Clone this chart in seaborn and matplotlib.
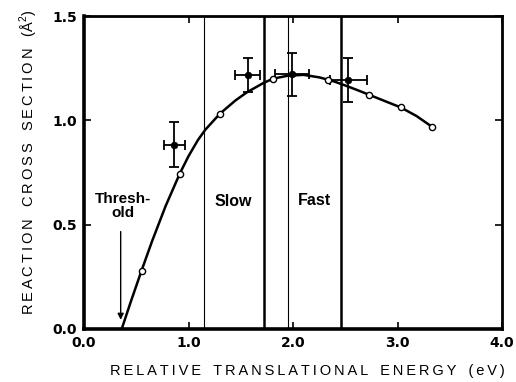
import matplotlib
matplotlib.use("Agg")
import matplotlib.pyplot as plt
import seaborn as sns
import pandas as pd

# ---- data ----
curve_x = [0.36, 0.45, 0.55, 0.65, 0.78, 0.916, 1.00, 1.09, 1.16, 1.30, 1.45, 1.56,
           1.72, 1.81, 1.95, 2.10, 2.25, 2.34, 2.40, 2.50, 2.62, 2.73, 2.88, 3.03,
           3.18, 3.33]
curve_y = [0.00, 0.135, 0.28, 0.42, 0.589, 0.745, 0.829, 0.906, 0.955, 1.032, 1.096,
           1.135, 1.18, 1.20, 1.214, 1.218, 1.206, 1.194, 1.185, 1.167, 1.144, 1.122,
           1.092, 1.062, 1.021, 0.969]

open_x = [0.55, 0.916, 1.30, 1.81, 2.33, 2.73, 3.03, 3.33]
open_y = [0.28, 0.745, 1.032, 1.20, 1.194, 1.122, 1.062, 0.969]

exp_x = [0.865, 1.564, 1.99, 2.53]
exp_y = [0.882, 1.217, 1.22, 1.193]
exp_xerr = [0.10, 0.12, 0.16, 0.175]
exp_yerr = [0.108, 0.082, 0.105, 0.104]

thin_lines = [1.15, 1.95]
thick_lines = [1.72, 2.46]

x_ticks = [0.0, 1.0, 2.0, 3.0, 4.0]
y_ticks = [0.0, 0.5, 1.0, 1.5]

TS = "\u2009"  # thin space for letter spacing


def spaced(s):
    words = s.split(" ")
    return "   ".join(TS.join(w) for w in words)


sns.set_theme(style="ticks")
plt.rcParams['font.family'] = ['Liberation Sans', 'DejaVu Sans']
plt.rcParams['mathtext.fontset'] = 'custom'
plt.rcParams['mathtext.rm'] = 'Liberation Sans'
plt.rcParams['text.color'] = 'black'
plt.rcParams['axes.labelcolor'] = 'black'

fig = plt.figure(figsize=(5.16, 3.82), dpi=100)
ax = fig.add_axes([0.163, 0.139, 0.81, 0.819])

curve = pd.DataFrame({"x": curve_x, "y": curve_y})
sns.lineplot(data=curve, x="x", y="y", ax=ax, color="black", lw=1.8, sort=False)

for v in thin_lines:
    ax.axvline(v, color="black", lw=0.8)
for v in thick_lines:
    ax.axvline(v, color="black", lw=1.8)

ax.errorbar(exp_x, exp_y, xerr=exp_xerr, yerr=exp_yerr, fmt="none",
            ecolor="black", elinewidth=1.3, capsize=3.5, capthick=1.3, zorder=4)
sns.scatterplot(x=exp_x, y=exp_y, ax=ax, color="black", s=24, marker="o",
                edgecolor="black", zorder=5)
sns.scatterplot(x=open_x, y=open_y, ax=ax, color="white", s=20, marker="o",
                edgecolor="black", linewidth=1.0, zorder=5)

ax.annotate("", xy=(0.35, 0.03), xytext=(0.35, 0.48),
            arrowprops=dict(arrowstyle="-|>", color="black", lw=1.0,
                            mutation_scale=9))
ax.text(0.375, 0.59, "Thresh-\nold", ha="center", va="center", fontsize=11,
        fontweight="bold", linespacing=0.95, color="black")
ax.text(1.43, 0.61, "Slow", ha="center", va="center", fontsize=11.5,
        fontweight="bold", color="black")
ax.text(2.2, 0.615, "Fast", ha="center", va="center", fontsize=11.5,
        fontweight="bold", color="black")

ax.set_xlim(0, 4.0)
ax.set_ylim(0, 1.5)
ax.set_xticks(x_ticks)
ax.set_yticks(y_ticks)
ax.set_xticklabels([f"{t:.1f}" for t in x_ticks], fontsize=10, fontweight="bold",
                   family="DejaVu Sans")
ax.set_yticklabels([f"{t:.1f}" for t in y_ticks], fontsize=10, fontweight="bold",
                   family="DejaVu Sans")
ax.tick_params(direction="in", length=5, width=1.2, top=True, right=True,
               color="black", labelcolor="black", pad=5)

ax.set_xlabel(spaced("RELATIVE TRANSLATIONAL ENERGY (eV)"), fontsize=10.5,
              color="black")
ax.set_ylabel(spaced("REACTION CROSS SECTION") + "   (Å$^2$)", fontsize=10.5,
              color="black")
ax.xaxis.set_label_coords(0.533, -0.112)
ax.yaxis.set_label_coords(-0.105, 0.534)

for name, sp in ax.spines.items():
    sp.set_color("black")
    sp.set_linewidth(2.6 if name in ("left", "bottom") else 2.0)

fig.savefig("out.png", dpi=100)
